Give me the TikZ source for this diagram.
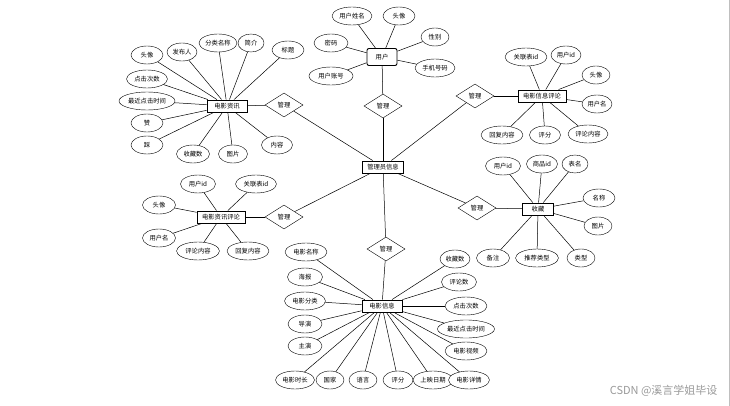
\documentclass[tikz,border=0pt]{standalone}
\usepackage{fontspec}
\setmainfont{Noto Sans CJK SC}
\usetikzlibrary{shapes.geometric}

\begin{document}
\begin{tikzpicture}[
    x=1pt, y=-1pt,
    font=\fontsize{6.3}{7}\selectfont,
    entity/.style={draw, line width=0.9pt, fill=white, minimum height=12pt, inner sep=1pt}, % 实体:矩形
    attr/.style={draw, ellipse, fill=white, minimum height=18pt, inner sep=0pt},       % 属性:椭圆
    rel/.style={draw, diamond, fill=white, minimum width=38pt, minimum height=24pt, inner sep=0pt}, % 联系:菱形
    link/.style={black, line width=0.5pt}
]
    \useasboundingbox (0,0) rectangle (730,406);

    % 1. 实体
    \node[entity, minimum width=41pt] (admin) at (383,167) {管理员信息};
    \node[entity, rounded corners=2pt, minimum width=30pt, minimum height=17pt] (user) at (382,57) {用户};
    \node[entity, minimum width=40pt] (news) at (227,106) {电影资讯};
    \node[entity, minimum width=48pt] (moviecmt) at (542,96) {电影信息评论};
    \node[entity, minimum width=31pt] (fav) at (538,209) {收藏};
    \node[entity, minimum width=48pt] (newscmt) at (221,217) {电影资讯评论};
    \node[entity, minimum width=40pt] (movie) at (382,306) {电影信息};

    % 2. 联系(管理)
    \node[rel] (r-user) at (383,106) {管理};
    \node[rel] (r-news) at (284,105) {管理};
    \node[rel] (r-moviecmt) at (475,96) {管理};
    \node[rel] (r-fav) at (477,208) {管理};
    \node[rel] (r-newscmt) at (284,217) {管理};
    \node[rel] (r-movie) at (386,249) {管理};
    \foreach \r/\e in {r-user/user, r-news/news, r-moviecmt/moviecmt, r-fav/fav, r-newscmt/newscmt, r-movie/movie} {
        \draw[link] (admin) -- (\r);
        \draw[link] (\r) -- (\e);
    }

    % 3. 属性
    \foreach \x/\y/\w/\t [count=\i] in {352/16/40/用户姓名, 399/16/32/头像, 435/37/28/性别,
        435/68/40/手机号码, 331/43/34/密码, 331/76/44/用户账号} {
        \node[attr, minimum width=\w pt] (user-a\i) at (\x,\y) {\t};
        \draw[link] (user) -- (user-a\i);
    }
    \foreach \x/\y/\w/\t [count=\i] in {147/55/32/头像, 182/52/30/发布人, 218/43/38/分类名称,
        251/43/26/简介, 288/50/32/标题, 147/79/41/点击次数, 147/101/56/最近点击时间,
        147/123/32/赞, 147/145/32/踩, 193/154/33/收藏数, 233/154/29/图片, 277/145/31/内容} {
        \node[attr, minimum width=\w pt] (news-a\i) at (\x,\y) {\t};
        \draw[link] (news) -- (news-a\i);
    }
    \foreach \x/\y/\w/\t [count=\i] in {526/57/42/关联表id, 566/55/30/用户id, 596/75/28/头像,
        597/104/30/用户名, 502/135/42/回复内容, 545/135/31/评分, 588/134/40/评论内容} {
        \node[attr, minimum width=\w pt] (moviecmt-a\i) at (\x,\y) {\t};
        \draw[link] (moviecmt) -- (moviecmt-a\i);
    }
    \foreach \x/\y/\w/\t [count=\i] in {503/166/35/用户id, 542/164/31/商品id, 575/164/26/表名,
        599/198/32/名称, 598/226/28/图片, 493/258/33/备注, 537/258/43/推荐类型, 581/258/28/类型} {
        \node[attr, minimum width=\w pt] (fav-a\i) at (\x,\y) {\t};
        \draw[link] (fav) -- (fav-a\i);
    }
    \foreach \x/\y/\w/\t [count=\i] in {198/184/35/用户id, 256/184/41/关联表id, 159/205/33/头像,
        159/238/33/用户名, 198/251/43/评论内容, 248/251/42/回复内容} {
        \node[attr, minimum width=\w pt] (newscmt-a\i) at (\x,\y) {\t};
        \draw[link] (newscmt) -- (newscmt-a\i);
    }
    \foreach \x/\y/\w/\t [count=\i] in {306/252/42/电影名称, 305/277/35/海报, 305/301/41/电影分类,
        305/324/34/导演, 305/346/34/主演, 295/380/39/电影时长, 330/380/28/国家, 363/380/28/语言,
        398/380/30/评分, 433/380/40/上映日期, 469/380/41/电影详情, 466/351/42/电影视频,
        466/329/57/最近点击时间, 466/306/42/点击次数, 459/282/35/评论数, 455/259/30/收藏数} {
        \node[attr, minimum width=\w pt] (movie-a\i) at (\x,\y) {\t};
        \draw[link] (movie) -- (movie-a\i);
    }

    % 水印 + 右侧边线
    \node[text=black!40, font=\fontsize{11}{12}\selectfont, anchor=east] (mark) at (721,391) {CSDN @溪言学姐毕设};
    \draw[black!25, line width=0.6pt] (729,0) -- (729,406);
\end{tikzpicture}
\end{document}
